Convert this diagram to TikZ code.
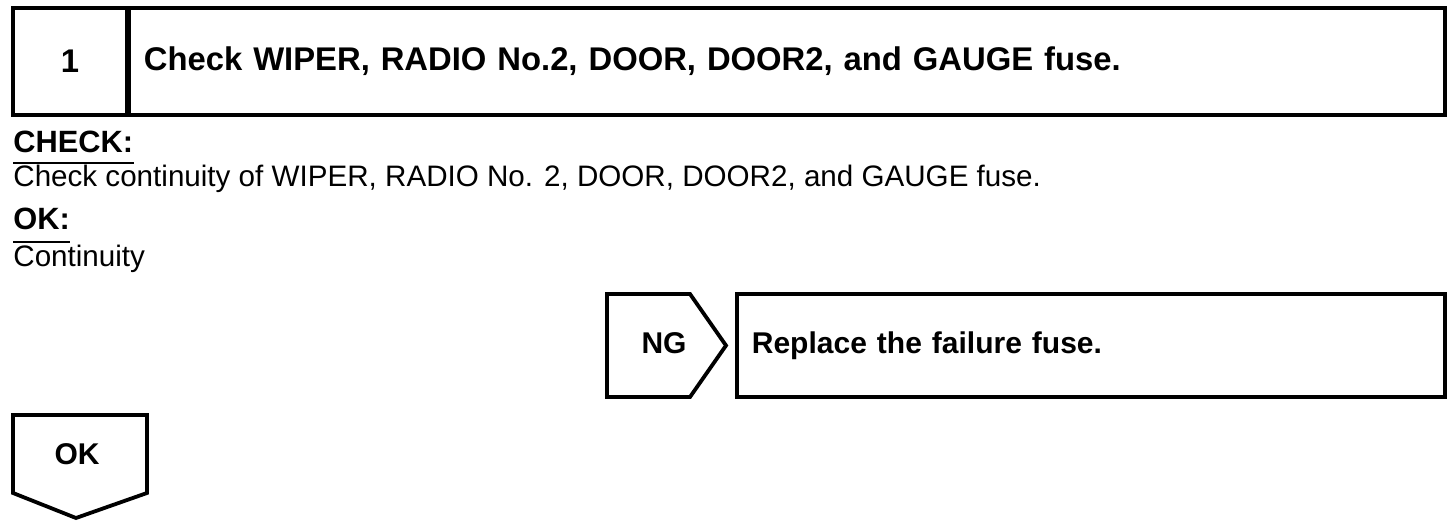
\documentclass[tikz,border=0pt]{standalone}
\usepackage{fontspec}
\setmainfont{Liberation Sans}
\usetikzlibrary{positioning}
\tikzset{
  box/.style={draw, line width=1.9pt, inner sep=7.5pt, align=left},
  headfont/.style={font=\fontsize{16.4}{20}\selectfont\bfseries},
  tagfont/.style={font=\fontsize{15}{18}\selectfont\bfseries},
  bodytext/.style={anchor=base west, inner sep=0pt, font=\fontsize{14.8}{17}\selectfont},
  labeltext/.style={bodytext, font=\fontsize{15.4}{17}\selectfont\bfseries},
  uline/.style={line width=1pt}
}
\begin{document}
\begin{tikzpicture}[x=0.5pt, y=-0.5pt]
\useasboundingbox (0,0) rectangle (1456,528);
% step header
\node[box, headfont, align=center, minimum width=57pt, minimum height=53.5pt] (num) at (70,61.5) {1};
\node[box, headfont, text width=643pt, minimum height=53.5pt, anchor=west] (title) at (127,61.5) {Check WIPER, RADIO No.2, DOOR, DOOR2, and GAUGE fuse.};
% check / ok text
\node[labeltext] (chk) at (13,153) {CHECK:};
\draw[uline] ([yshift=-5pt]chk.base west) -- ([yshift=-5pt]chk.base east);
\node[bodytext] (chktext) at (13,187) {Check continuity of WIPER, RADIO No. 2, DOOR, DOOR2, and GAUGE fuse.};
\node[labeltext] (ok) at (13,230) {OK:};
\draw[uline] ([yshift=-6pt]ok.base west) -- ([yshift=-6pt]ok.base east);
\node[bodytext] (oktext) at (13,267) {Continuity};
% NG branch
\draw[line width=1.9pt] (607,294) -- (690,294) -- (726,345.5) -- (690,397) -- (607,397) -- cycle;
\node[tagfont] (ng) at (664,343) {NG};
\node[box, tagfont, text width=339pt, minimum height=51.5pt, anchor=west] (fix) at (735,345.5) {Replace the failure fuse.};
% OK branch
\draw[line width=1.9pt] (13,415) -- (147,415) -- (147,493) -- (76,518) -- (13,493) -- cycle;
\node[tagfont] (okbr) at (77,454) {OK};
\end{tikzpicture}
\end{document}
